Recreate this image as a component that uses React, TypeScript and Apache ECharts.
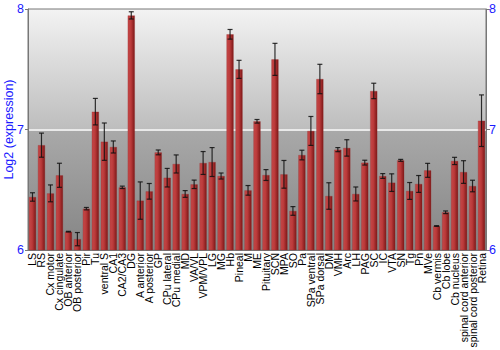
import React, { useEffect, useRef } from "react";
import * as echarts from "echarts";

const categories = [
  "LS", "RS", "Cx motor", "Cx cingulate", "OB anterior", "OB posterior", "Pir", "Tu",
  "ventral S", "CA1", "CA2/CA3", "DG", "A anterior", "A posterior", "GP", "CPu lateral",
  "CPu medial", "MD", "VA/VL", "VPM/VPL", "LG", "MG", "Hb", "Pineal", "M", "ME",
  "Pituitary", "SCN", "MPA", "SO", "Pa", "SPa ventral", "SPa dorsal", "DM", "VMH", "Arc",
  "LH", "PAG", "SC", "IC", "VTA", "SN", "Tg", "Pn", "MVe", "Cb vermis", "Cb lobe",
  "Cb nucleus", "spinal cord anterior", "spinal cord posterior", "Retina",
];

const values = [
  6.44, 6.87, 6.47, 6.62, 6.152, 6.09, 6.343, 7.148,
  6.899, 6.855, 6.52, 7.947, 6.41, 6.487, 6.81, 6.6,
  6.714, 6.465, 6.545, 6.722, 6.73, 6.614, 7.79, 7.499, 6.495, 7.068,
  6.622, 7.582, 6.628, 6.324, 6.788, 6.988, 7.419, 6.448, 6.833, 6.847,
  6.465, 6.725, 7.32, 6.614, 6.559, 6.744, 6.49, 6.548, 6.661, 6.199, 6.313,
  6.739, 6.647, 6.531, 7.073,
];

const errors = [
  0.035, 0.1, 0.07, 0.1, 0.003, 0.055, 0.01, 0.11,
  0.155, 0.05, 0.01, 0.03, 0.155, 0.065, 0.02, 0.077,
  0.075, 0.028, 0.035, 0.095, 0.12, 0.025, 0.04, 0.075, 0.04, 0.015,
  0.045, 0.133, 0.115, 0.036, 0.04, 0.12, 0.122, 0.11, 0.017, 0.068,
  0.058, 0.02, 0.064, 0.02, 0.073, 0.008, 0.07, 0.07, 0.058, 0.003, 0.011,
  0.03, 0.094, 0.048, 0.214,
];

const yTicks = { min: 6, max: 8, interval: 1 };
const yTitle = "Log2 (expression)";

export default function App() {
  const ref = useRef<HTMLDivElement>(null);
  useEffect(() => {
    if (!ref.current) return;
    const chart = echarts.init(ref.current, null, { renderer: "svg" });
    const errData = values.map((v, i) => [i, v - errors[i], v + errors[i]]);
    const blue = "#1a1aff";
    const font = "Liberation Sans, Arial, sans-serif";
    chart.setOption({
      animation: false,
      grid: {
        left: 28,
        right: 14,
        top: 9,
        bottom: 100,
        outerBoundsMode: "none",
        containLabel: false,
        show: true,
        borderColor: "#777777",
        borderWidth: 1,
        backgroundColor: new echarts.graphic.LinearGradient(0, 0, 0, 1, [
          { offset: 0, color: "#f3f3f3" },
          { offset: 0.5, color: "#bdbdbd" },
          { offset: 0.5, color: "#a9a9a9" },
          { offset: 1, color: "#858585" },
        ]),
      },
      xAxis: {
        type: "category",
        data: categories,
        axisLine: { lineStyle: { color: "#777777" } },
        axisTick: { show: false },
        axisLabel: {
          rotate: 90,
          interval: 0,
          color: "#000",
          fontSize: 10.5,
          fontFamily: font,
          margin: 3,
        },
      },
      yAxis: [
        {
          type: "value",
          min: yTicks.min,
          max: yTicks.max,
          interval: yTicks.interval,
          name: yTitle,
          nameLocation: "middle",
          nameGap: 13,
          nameMoveOverlap: false,
          nameTextStyle: { color: blue, fontSize: 12.5, fontFamily: font },
          axisLine: { show: true, lineStyle: { color: "#777777" } },
          axisTick: { show: true, length: 3, lineStyle: { color: "#777777" } },
          axisLabel: { color: blue, fontSize: 12.5, fontFamily: font, margin: 4 },
          splitLine: {
            show: true,
            lineStyle: { color: ["rgba(0,0,0,0)", "#ffffff", "rgba(0,0,0,0)"], width: 1.5 },
          },
        },
        {
          type: "value",
          position: "right",
          min: yTicks.min,
          max: yTicks.max,
          interval: yTicks.interval,
          axisLine: { show: true, lineStyle: { color: "#777777" } },
          axisTick: { show: true, length: 4, lineStyle: { color: "#777777" } },
          axisLabel: { color: blue, fontSize: 12.5, fontFamily: font, margin: 3 },
          splitLine: { show: false },
        },
      ],
      series: [
        {
          type: "bar",
          data: values,
          barWidth: "80%",
          itemStyle: {
            color: new echarts.graphic.LinearGradient(0, 0, 1, 0, [
              { offset: 0, color: "#c44848" },
              { offset: 0.45, color: "#bb3a3a" },
              { offset: 1, color: "#7e1818" },
            ]),
            borderColor: "rgba(150,40,40,0.6)",
            borderWidth: 0.5,
          },
        },
        {
          type: "custom",
          data: errData,
          z: 10,
          renderItem: (params: any, api: any) => {
            const x = api.value(0);
            const lo = api.coord([x, api.value(1)]);
            const hi = api.coord([x, api.value(2)]);
            const cap = 2.5;
            const style = { stroke: "#111111", lineWidth: 1.2, opacity: 0.85 };
            return {
              type: "group",
              children: [
                { type: "line", shape: { x1: lo[0], y1: lo[1], x2: hi[0], y2: hi[1] }, style },
                { type: "line", shape: { x1: lo[0] - cap, y1: lo[1], x2: lo[0] + cap, y2: lo[1] }, style },
                { type: "line", shape: { x1: hi[0] - cap, y1: hi[1], x2: hi[0] + cap, y2: hi[1] }, style },
              ],
            };
          },
        },
      ],
    });
    return () => chart.dispose();
  }, []);
  return <div ref={ref} style={{ width: 500, height: 350, position: "absolute", left: 0, top: 0 }} />;
}
